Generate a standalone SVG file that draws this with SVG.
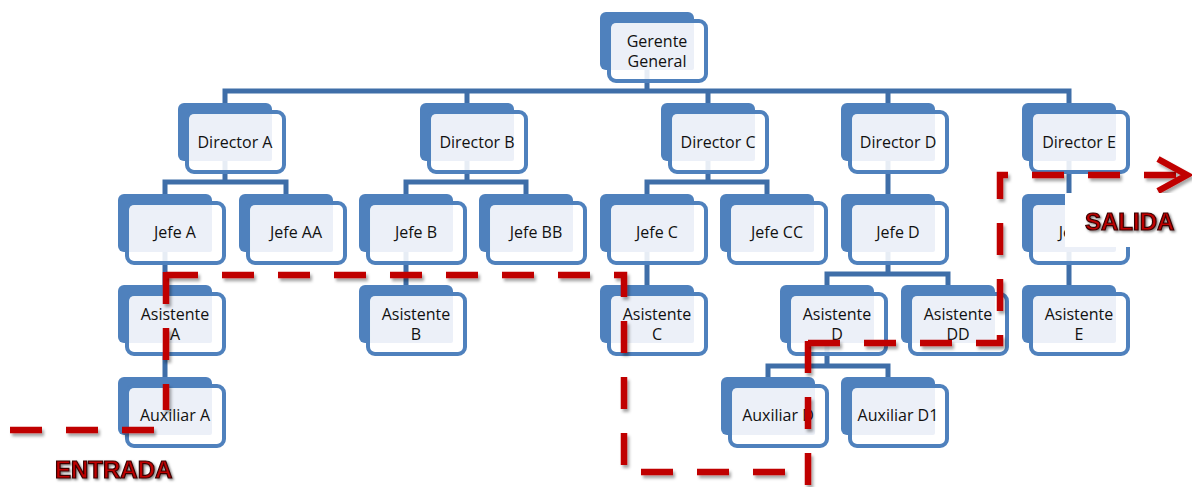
<svg xmlns="http://www.w3.org/2000/svg" width="1192" height="487" viewBox="0 0 1192 487">
<defs>
<filter id="sh" filterUnits="userSpaceOnUse" x="0" y="0" width="1192" height="487">
<feDropShadow dx="2" dy="3" stdDeviation="1.8" flood-color="#000" flood-opacity="0.35"/>
</filter>
<filter id="tsh" filterUnits="userSpaceOnUse" x="0" y="0" width="1192" height="487">
<feDropShadow dx="1.5" dy="1.5" stdDeviation="1.2" flood-color="#000" flood-opacity="0.5"/>
</filter>
</defs>
<style>
.back{fill:#4F81BD}
.frame{fill:#fff;fill-opacity:0.88;stroke:#4F81BD;stroke-width:4}
.inner{fill:#ECF0F8}
.t{font-family:"Open Sans","Liberation Sans",sans-serif;font-size:16px;fill:#111;text-anchor:middle}
.con{fill:none;stroke:#3F6EA8;stroke-width:5}
.red{fill:none;stroke:#C00000;stroke-width:6.5;stroke-dasharray:32 24;filter:url(#sh)}
.arrow{fill:none;stroke:#C00000;stroke-width:6.5;stroke-linejoin:miter;filter:url(#sh)}
.lbl{font-family:"Liberation Sans",Arial,sans-serif;font-weight:bold;font-size:24px;fill:#C00000;stroke:#3a0000;stroke-width:1.2;filter:url(#tsh)}
</style>
<g id="connectors">
<path class="con" d="M647,68 V91 M225,103 V91 H1069 V103 M467,91 V103 M708,91 V103 M888,91 V103"/>
<path class="con" d="M225,161 V182 M165,194 V182 H286 V194"/>
<path class="con" d="M467,161 V182 M406,194 V182 H526 V194"/>
<path class="con" d="M708,161 V182 M647,194 V182 H767 V194"/>
<path class="con" d="M888,161 V194 M1069,161 V194"/>
<path class="con" d="M165,252 V285 M165,343 V377 M406,252 V285 M647,252 V285 M1069,252 V285"/>
<path class="con" d="M888,252 V274 M827,285 V274 H948 V285"/>
<path class="con" d="M827,343 V366 M768,377 V366 H888 V377"/>
</g>
<g id="n-gerente" transform="translate(600,12)"><rect class="back" width="94" height="58" rx="6"/><rect class="frame" x="9" y="9" width="97" height="60" rx="7"/><rect class="inner" x="12" y="12" width="82" height="46" rx="2"/><text class="t" x="57" y="34.5">Gerente</text><text class="t" x="57" y="55">General</text></g>
<g id="n-dir-a" transform="translate(178,103)"><rect class="back" width="94" height="58" rx="6"/><rect class="frame" x="9" y="9" width="97" height="60" rx="7"/><rect class="inner" x="12" y="12" width="82" height="46" rx="2"/><text class="t" x="57" y="45">Director A</text></g>
<g id="n-dir-b" transform="translate(420,103)"><rect class="back" width="94" height="58" rx="6"/><rect class="frame" x="9" y="9" width="97" height="60" rx="7"/><rect class="inner" x="12" y="12" width="82" height="46" rx="2"/><text class="t" x="57" y="45">Director B</text></g>
<g id="n-dir-c" transform="translate(661,103)"><rect class="back" width="94" height="58" rx="6"/><rect class="frame" x="9" y="9" width="97" height="60" rx="7"/><rect class="inner" x="12" y="12" width="82" height="46" rx="2"/><text class="t" x="57" y="45">Director C</text></g>
<g id="n-dir-d" transform="translate(841,103)"><rect class="back" width="94" height="58" rx="6"/><rect class="frame" x="9" y="9" width="97" height="60" rx="7"/><rect class="inner" x="12" y="12" width="82" height="46" rx="2"/><text class="t" x="57" y="45">Director D</text></g>
<g id="n-dir-e" transform="translate(1022,103)"><rect class="back" width="94" height="58" rx="6"/><rect class="frame" x="9" y="9" width="97" height="60" rx="7"/><rect class="inner" x="12" y="12" width="82" height="46" rx="2"/><text class="t" x="57" y="45">Director E</text></g>
<g id="n-jefe-a" transform="translate(118,194)"><rect class="back" width="94" height="58" rx="6"/><rect class="frame" x="9" y="9" width="97" height="60" rx="7"/><rect class="inner" x="12" y="12" width="82" height="46" rx="2"/><text class="t" x="57" y="44">Jefe A</text></g>
<g id="n-jefe-aa" transform="translate(239,194)"><rect class="back" width="94" height="58" rx="6"/><rect class="frame" x="9" y="9" width="97" height="60" rx="7"/><rect class="inner" x="12" y="12" width="82" height="46" rx="2"/><text class="t" x="57" y="44">Jefe AA</text></g>
<g id="n-jefe-b" transform="translate(359,194)"><rect class="back" width="94" height="58" rx="6"/><rect class="frame" x="9" y="9" width="97" height="60" rx="7"/><rect class="inner" x="12" y="12" width="82" height="46" rx="2"/><text class="t" x="57" y="44">Jefe B</text></g>
<g id="n-jefe-bb" transform="translate(479,194)"><rect class="back" width="94" height="58" rx="6"/><rect class="frame" x="9" y="9" width="97" height="60" rx="7"/><rect class="inner" x="12" y="12" width="82" height="46" rx="2"/><text class="t" x="57" y="44">Jefe BB</text></g>
<g id="n-jefe-c" transform="translate(600,194)"><rect class="back" width="94" height="58" rx="6"/><rect class="frame" x="9" y="9" width="97" height="60" rx="7"/><rect class="inner" x="12" y="12" width="82" height="46" rx="2"/><text class="t" x="57" y="44">Jefe C</text></g>
<g id="n-jefe-cc" transform="translate(720,194)"><rect class="back" width="94" height="58" rx="6"/><rect class="frame" x="9" y="9" width="97" height="60" rx="7"/><rect class="inner" x="12" y="12" width="82" height="46" rx="2"/><text class="t" x="57" y="44">Jefe CC</text></g>
<g id="n-jefe-d" transform="translate(841,194)"><rect class="back" width="94" height="58" rx="6"/><rect class="frame" x="9" y="9" width="97" height="60" rx="7"/><rect class="inner" x="12" y="12" width="82" height="46" rx="2"/><text class="t" x="57" y="44">Jefe D</text></g>
<g id="n-jefe-e" transform="translate(1022,194)"><rect class="back" width="94" height="58" rx="6"/><rect class="frame" x="9" y="9" width="97" height="60" rx="7"/><rect class="inner" x="12" y="12" width="82" height="46" rx="2"/><text class="t" x="57" y="44">Jefe E</text></g>
<g id="n-asis-a" transform="translate(118,285)"><rect class="back" width="94" height="58" rx="6"/><rect class="frame" x="9" y="9" width="97" height="60" rx="7"/><rect class="inner" x="12" y="12" width="82" height="46" rx="2"/><text class="t" x="57" y="34.5">Asistente</text><text class="t" x="57" y="55">A</text></g>
<g id="n-asis-b" transform="translate(359,285)"><rect class="back" width="94" height="58" rx="6"/><rect class="frame" x="9" y="9" width="97" height="60" rx="7"/><rect class="inner" x="12" y="12" width="82" height="46" rx="2"/><text class="t" x="57" y="34.5">Asistente</text><text class="t" x="57" y="55">B</text></g>
<g id="n-asis-c" transform="translate(600,285)"><rect class="back" width="94" height="58" rx="6"/><rect class="frame" x="9" y="9" width="97" height="60" rx="7"/><rect class="inner" x="12" y="12" width="82" height="46" rx="2"/><text class="t" x="57" y="34.5">Asistente</text><text class="t" x="57" y="55">C</text></g>
<g id="n-asis-d" transform="translate(780,285)"><rect class="back" width="94" height="58" rx="6"/><rect class="frame" x="9" y="9" width="97" height="60" rx="7"/><rect class="inner" x="12" y="12" width="82" height="46" rx="2"/><text class="t" x="57" y="34.5">Asistente</text><text class="t" x="57" y="55">D</text></g>
<g id="n-asis-dd" transform="translate(901,285)"><rect class="back" width="94" height="58" rx="6"/><rect class="frame" x="9" y="9" width="97" height="60" rx="7"/><rect class="inner" x="12" y="12" width="82" height="46" rx="2"/><text class="t" x="57" y="34.5">Asistente</text><text class="t" x="57" y="55">DD</text></g>
<g id="n-asis-e" transform="translate(1022,285)"><rect class="back" width="94" height="58" rx="6"/><rect class="frame" x="9" y="9" width="97" height="60" rx="7"/><rect class="inner" x="12" y="12" width="82" height="46" rx="2"/><text class="t" x="57" y="34.5">Asistente</text><text class="t" x="57" y="55">E</text></g>
<g id="n-aux-a" transform="translate(118,377)"><rect class="back" width="94" height="58" rx="6"/><rect class="frame" x="9" y="9" width="97" height="60" rx="7"/><rect class="inner" x="12" y="12" width="82" height="46" rx="2"/><text class="t" x="57" y="44">Auxiliar A</text></g>
<g id="n-aux-d" transform="translate(721,377)"><rect class="back" width="94" height="58" rx="6"/><rect class="frame" x="9" y="9" width="97" height="60" rx="7"/><rect class="inner" x="12" y="12" width="82" height="46" rx="2"/><text class="t" x="57" y="44">Auxiliar D</text></g>
<g id="n-aux-d1" transform="translate(841,377)"><rect class="back" width="94" height="58" rx="6"/><rect class="frame" x="9" y="9" width="97" height="60" rx="7"/><rect class="inner" x="12" y="12" width="82" height="46" rx="2"/><text class="t" x="57" y="44">Auxiliar D1</text></g>
<g id="route">
<path class="red" d="M10,430 H154"/>
<path class="red" d="M166,272 V410"/>
<path class="red" d="M166,275 H624 V472 H786"/>
<path class="red" d="M808,341 V490"/>
<path class="red" d="M808,343 H1000 V175 H1178"/>
<polyline class="arrow" points="1158,159 1187,175 1158,191"/>
</g>
<g id="labels">
<rect x="1065" y="193" width="110" height="54" fill="#fff"/>
<text class="lbl" x="1085" y="230">SALIDA</text>
<text class="lbl" x="55" y="478">ENTRADA</text>
</g>
</svg>
